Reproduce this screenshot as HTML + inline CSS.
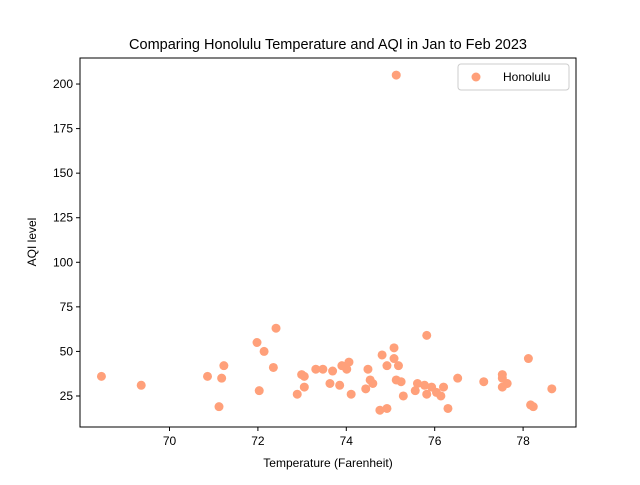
<!DOCTYPE html>
<html><head><meta charset="utf-8"><style>
body{margin:0;background:#fff}
svg{font-family:"Liberation Sans","DejaVu Sans",sans-serif}
</style></head><body>
<svg id="chart" width="640" height="480">
<rect width="640" height="480" fill="#fff"/>
<text x="328" y="49" text-anchor="middle" font-size="14.5">Comparing Honolulu Temperature and AQI in Jan to Feb 2023</text>
<g id="plot"></g>
<rect x="80" y="58" width="496" height="369" fill="none" stroke="#000" stroke-width="1"/>
<text x="328" y="467" text-anchor="middle" font-size="12">Temperature (Farenheit)</text>
<text transform="translate(36,242) rotate(-90)" text-anchor="middle" font-size="12">AQI level</text>
<g>
<rect x="458" y="64" width="111" height="26" rx="3" fill="#fff" stroke="#ccc"/>
<circle cx="476" cy="77" r="4.5" fill="#FFA07A"/>
<text x="503" y="81" font-size="12">Honolulu</text>
</g>
</svg>
<script>
const temps=[68.46,69.36,70.86,71.12,71.18,71.23,71.98,72.03,72.14,72.35,72.41,72.89,72.99,73.05,73.05,73.31,73.47,73.63,73.69,73.85,73.90,74.01,74.06,74.11,74.44,74.49,74.54,74.60,74.76,74.81,74.92,74.92,75.08,75.08,75.13,75.18,75.13,75.24,75.29,75.56,75.61,75.77,75.82,75.82,75.93,76.04,76.14,76.20,76.30,76.52,77.11,77.53,77.53,77.53,77.64,78.12,78.17,78.23,78.65];
const aqi=[36,31,36,19,35,42,55,28,50,41,63,26,37,30,36,40,40,32,39,31,42,40,44,26,29,40,34,32,17,48,18,42,46,52,34,42,205,33,25,28,32,31,59,26,30,27,25,30,18,35,33,35,37,30,32,46,20,19,29];
const xTicks=[70,72,74,76,78];
const yTicks=[25,50,75,100,125,150,175,200];
const xMin=67.975,xMax=79.197,yMin=7.6,yMax=214.6;
const L=80,R=576,T=58,B=427;
const xs=v=>L+(v-xMin)/(xMax-xMin)*(R-L);
const ys=v=>B-(v-yMin)/(yMax-yMin)*(B-T);
const NS="http://www.w3.org/2000/svg";
const g=document.getElementById('plot');
function mk(tag,attrs){const e=document.createElementNS(NS,tag);for(const k in attrs)e.setAttribute(k,attrs[k]);g.appendChild(e);return e;}
xTicks.forEach(t=>{
  const x=xs(t);
  const l=mk('line',{x1:x,x2:x,y1:B,y2:B+4,stroke:'#000'});
  
  
  const tx=mk('text',{x:x,y:B+18,'text-anchor':'middle','font-size':'12'});
  tx.textContent=t;
  
  
});
yTicks.forEach(t=>{
  const y=ys(t);
  const l=mk('line',{x1:L-4,x2:L,y1:y,y2:y,stroke:'#000'});
  
  
  const tx=mk('text',{x:L-7,y:y+4,'text-anchor':'end','font-size':'12'});
  tx.textContent=t;
  
  
});
temps.forEach((t,i)=>{
  const c=mk('circle',{cx:xs(t),cy:ys(aqi[i]),r:4.5,fill:'#FFA07A'});
  
  
});
</script>
</body></html>
